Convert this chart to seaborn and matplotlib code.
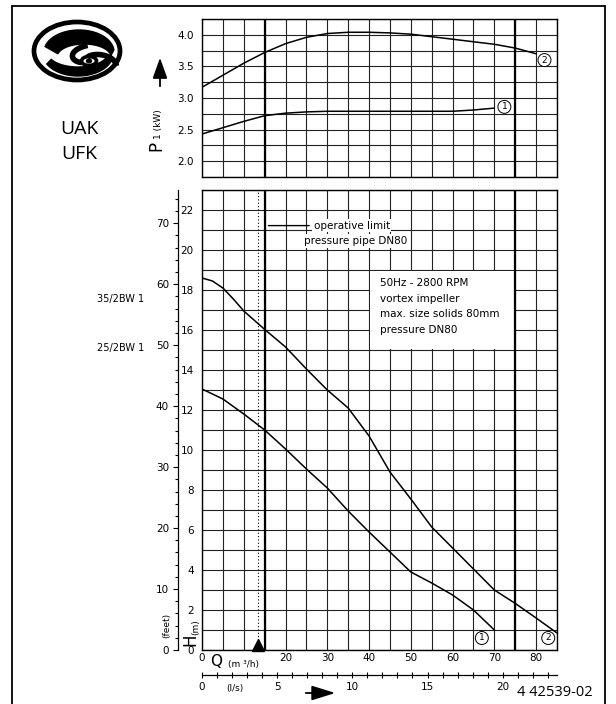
import numpy as np
import pandas as pd
import matplotlib
matplotlib.use("Agg")
import matplotlib.pyplot as plt
import seaborn as sns
from matplotlib.patches import Rectangle, Ellipse, Polygon, FancyArrowPatch
from matplotlib.lines import Line2D
from matplotlib.ticker import MultipleLocator

# ---------------- data ----------------
q_p_curve1 = [0, 5, 10, 15, 20, 25, 30, 35, 40, 45, 50, 55, 60, 65, 70]
p_curve1 = [2.43, 2.53, 2.63, 2.72, 2.76, 2.78, 2.79, 2.79, 2.79, 2.79, 2.79, 2.79, 2.79, 2.81, 2.84]
q_p_curve2 = [0, 5, 10, 15, 20, 25, 30, 35, 40, 45, 50, 55, 60, 65, 70, 75, 80]
p_curve2 = [3.17, 3.36, 3.55, 3.72, 3.86, 3.96, 4.02, 4.04, 4.04, 4.03, 4.01, 3.97, 3.93, 3.89, 3.85, 3.79, 3.70]

q_h_curve1 = [0, 5, 10, 15, 20, 25, 30, 35, 40, 45, 50, 55, 60, 65, 70]
h_curve1 = [13.05, 12.55, 11.8, 11.0, 10.05, 9.05, 8.1, 6.95, 5.9, 4.9, 3.9, 3.35, 2.75, 2.0, 1.0]
q_h_curve2 = [0, 2.5, 5, 7.5, 10, 15, 20, 25, 30, 35, 40, 45, 50, 55, 60, 65, 70, 75, 80, 85]
h_curve2 = [18.6, 18.45, 18.1, 17.55, 16.95, 16.03, 15.15, 14.05, 13.0, 12.1, 10.7, 8.9, 7.55, 6.15,
            5.1, 4.05, 3.0, 2.33, 1.6, 0.85]

curve_labels = ["1", "2"]
pump_models = ["35/2BW 1", "25/2BW 1"]
q_limits = [15, 75]          # thick vertical lines
q_min = 13.3                 # dotted line / triangle marker
p_ticks = [2.0, 2.5, 3.0, 3.5, 4.0]
h_ticks = [0, 2, 4, 6, 8, 10, 12, 14, 16, 18, 20, 22]
q_ticks = [0, 20, 30, 40, 50, 60, 70, 80]
feet_ticks = [0, 10, 20, 30, 40, 50, 60, 70]
ls_ticks = [0, 5, 10, 15, 20]
info_lines = ["50Hz - 2800 RPM", "vortex impeller", "max. size solids 80mm", "pressure DN80"]

# ---------------- style ----------------
sns.set_style("white")
plt.rcParams["font.family"] = ["DejaVu Sans"]
plt.rcParams["text.color"] = "k"
plt.rcParams["xtick.color"] = "k"
plt.rcParams["ytick.color"] = "k"

W, H = 616, 704
fig = plt.figure(figsize=(W / 100, H / 100), dpi=100)
fig.patch.set_facecolor("white")


def fx(x):
    return x / W


def fy(y):
    return 1 - y / H


GRID = dict(color="#222222", lw=0.8)
FS = 7.5

# ---------------- top axes (P1) ----------------
ax1 = fig.add_axes([fx(202), fy(177), fx(557) - fx(202), fy(19) - fy(177)])
ax1.set_xlim(0, 85)
ax1.set_ylim(1.75, 4.25)
ax1.set_xticks(np.arange(0, 86, 5))
ax1.set_xticklabels([])
yt = np.arange(1.75, 4.26, 0.25)
ax1.set_yticks(yt)
ax1.set_yticklabels([f"{v:.1f}" if any(abs(v - p) < 1e-6 for p in p_ticks) else "" for v in yt])
ax1.grid(True, **GRID)
ax1.set_axisbelow(True)
ax1.tick_params(length=0, pad=6, labelsize=FS, colors="k")
for s in ax1.spines.values():
    s.set_color("k")
    s.set_linewidth(1.0)
for q in q_limits:
    ax1.axvline(q, color="k", lw=1.6, zorder=2)

df_p = pd.DataFrame({
    "Q": q_p_curve1 + q_p_curve2,
    "P": p_curve1 + p_curve2,
    "curve": [curve_labels[0]] * len(q_p_curve1) + [curve_labels[1]] * len(q_p_curve2),
})
sns.lineplot(data=df_p, x="Q", y="P", hue="curve", palette=["k", "k"], lw=1.1,
             legend=False, ax=ax1, estimator=None, sort=False, zorder=3)
ax1.set_xlabel("")
ax1.set_ylabel("")

circ = dict(boxstyle="circle,pad=0.22", fc="white", ec="k", lw=0.7)
ax1.text(72.4, 2.86, curve_labels[0], ha="center", va="center", fontsize=6.5, bbox=circ, zorder=5)
ax1.text(82.0, 3.60, curve_labels[1], ha="center", va="center", fontsize=6.5, bbox=circ, zorder=5)

# ---------------- bottom axes (H) ----------------
ax2 = fig.add_axes([fx(202), fy(650), fx(557) - fx(202), fy(190) - fy(650)])
ax2.set_xlim(0, 85)
ax2.set_ylim(0, 23)
xt = np.arange(0, 86, 5)
ax2.set_xticks(xt)
ax2.set_xticklabels([str(v) if v in q_ticks else "" for v in xt])
ytt = np.arange(0, 24, 1)
ax2.set_yticks(ytt)
ax2.set_yticklabels([str(v) if v in h_ticks else "" for v in ytt])
ax2.grid(True, **GRID)
ax2.set_axisbelow(True)
ax2.tick_params(axis="y", length=0, pad=6, labelsize=FS, colors="k")
ax2.tick_params(axis="x", length=0, pad=2.5, labelsize=FS, colors="k")
for s in ax2.spines.values():
    s.set_color("k")
    s.set_linewidth(1.0)
for q in q_limits:
    ax2.axvline(q, color="k", lw=1.6, zorder=2)
ax2.axvline(q_min, color="k", lw=0.8, ls=(0, (1, 2)), zorder=2)
ax2.plot([q_min], [0.27], marker="^", ms=9, color="k", clip_on=False, zorder=6)

# white info box (cell with no grid)
ax2.add_patch(Rectangle((40.25, 15.05), 34.5, 3.9, fc="white", ec="none", zorder=1))
for i, line in enumerate(info_lines):
    ax2.text(42.7, 18.35 - i * 0.78, line, ha="left", va="center", fontsize=FS, zorder=4)

df_h = pd.DataFrame({
    "Q": q_h_curve1 + q_h_curve2,
    "H": h_curve1 + h_curve2,
    "curve": [curve_labels[0]] * len(q_h_curve1) + [curve_labels[1]] * len(q_h_curve2),
})
sns.lineplot(data=df_h, x="Q", y="H", hue="curve", palette=["k", "k"], lw=1.1,
             legend=False, ax=ax2, estimator=None, sort=False, zorder=3)
ax2.set_xlabel("")
ax2.set_ylabel("")

ax2.text(67.0, 0.6, curve_labels[0], ha="center", va="center", fontsize=6.5, bbox=circ, zorder=5)
ax2.text(82.9, 0.6, curve_labels[1], ha="center", va="center", fontsize=6.5, bbox=circ, zorder=5)

wb = dict(boxstyle="square,pad=0.15", fc="white", ec="none")
ax2.annotate("operative limit", xy=(15.9, 21.22), xytext=(26.7, 21.22), ha="left", va="center",
             fontsize=FS, bbox=wb, zorder=4,
             arrowprops=dict(arrowstyle="-", lw=1.0, color="k", shrinkA=2, shrinkB=0))
ax2.text(24.5, 20.45, "pressure pipe DN80", ha="left", va="center", fontsize=FS, bbox=wb, zorder=4)

# feet axis
ft = ax2.secondary_yaxis(-24 / 355, functions=(lambda m: m * 3.28084, lambda f: f / 3.28084))
ft.set_yticks(feet_ticks)
ft.yaxis.set_minor_locator(MultipleLocator(2))
ft.tick_params(axis="y", which="major", length=3.5, width=0.8, pad=3, labelsize=FS, colors="k")
ft.tick_params(axis="y", which="minor", length=2.5, width=0.8)
for s in ft.spines.values():
    s.set_color("k")
    s.set_linewidth(0.9)

# l/s axis
ls = ax2.secondary_xaxis(-25 / 460, functions=(lambda q: q / 3.6, lambda l: l * 3.6))
ls.set_xticks(ls_ticks)
ls.xaxis.set_minor_locator(MultipleLocator(1))
ls.tick_params(axis="x", which="both", direction="inout", length=4, width=0.8, pad=3,
               labelsize=FS, colors="k")
for s in ls.spines.values():
    s.set_color("k")
    s.set_linewidth(0.9)

# ---------------- figure-level texts ----------------
fig.text(fx(156), fy(146), "P", rotation=90, ha="center", va="center", fontsize=12)
fig.text(fx(159), fy(124), "1 (kW)", rotation=90, ha="center", va="center", fontsize=6.5)
fig.text(fx(190), fy(640), "H", rotation=90, ha="center", va="center", fontsize=12)
fig.text(fx(196), fy(627), "(m)", rotation=90, ha="center", va="center", fontsize=6.5)
fig.text(fx(167), fy(625), "(feet)", rotation=90, ha="center", va="center", fontsize=6.5)
fig.text(fx(216), fy(661), "Q", ha="center", va="center", fontsize=11)
fig.text(fx(243), fy(664), "(m ³/h)", ha="center", va="center", fontsize=6.5)
fig.text(fx(235), fy(688), "(l/s)", ha="center", va="center", fontsize=6.5)
fig.text(fx(144), fy(299), pump_models[0], ha="right", va="center", fontsize=7)
fig.text(fx(144), fy(348), pump_models[1], ha="right", va="center", fontsize=7)
fig.text(fx(79), fy(129), "UAK", ha="center", va="center", fontsize=14, family=["Open Sans", "DejaVu Sans"])
fig.text(fx(79), fy(154), "UFK", ha="center", va="center", fontsize=14, family=["Open Sans", "DejaVu Sans"])
fig.text(fx(555), fy(692), "4 42539-02", ha="center", va="center", fontsize=10.5,
         family=["Open Sans", "DejaVu Sans"])

# arrows
fig.add_artist(FancyArrowPatch((fx(160), fy(89)), (fx(160), fy(55)),
               transform=fig.transFigure, arrowstyle="-|>,head_length=0.7,head_width=0.25",
               mutation_scale=18, lw=1.3, color="k"))
fig.add_artist(FancyArrowPatch((fx(303), fy(693)), (fx(338), fy(693)),
               transform=fig.transFigure, arrowstyle="-|>,head_length=0.8,head_width=0.25",
               mutation_scale=18, lw=1.3, color="k"))

# frame
for xs, ys in [([12, 12], [6, 704]), ([12, 605], [6, 6]), ([605, 605], [6, 704])]:
    fig.add_artist(Line2D([fx(v) for v in xs], [fy(v) for v in ys], color="k", lw=1.3))

# ---------------- logo (impeller) ----------------
lax = fig.add_axes([fx(25), fy(95), fx(130) - fx(25), fy(15) - fy(95)])
lax.set_xlim(25, 130)
lax.set_ylim(95, 15)
lax.axis("off")
lax.add_patch(Ellipse((77, 51), 86, 58, fill=False, lw=3.4, ec="k"))
# top rim band
t = np.linspace(np.pi * 1.08, np.pi * 1.97, 40)
outer = np.c_[79 + 35 * np.cos(t), 52 + 22 * np.sin(t)]
inner = np.c_[84 + 27 * np.cos(t[::-1]), 57 + 13 * np.sin(t[::-1])]
lax.add_patch(Polygon(np.r_[outer, inner], closed=True, fc="k", ec="k"))
# lower rim band
t2 = np.linspace(np.pi * 0.10, np.pi * 0.85, 40)
outb = np.c_[78 + 35 * np.cos(t2), 54 + 22 * np.sin(t2)]
inb = np.c_[78 + 30 * np.cos(t2[::-1]), 53 + 14 * np.sin(t2[::-1])]
lax.add_patch(Polygon(np.r_[outb, inb], closed=True, fc="k", ec="k"))
# spiral blades
for ang in [0.6, 2.7, 4.6]:
    s = np.linspace(0, 1.0, 25)
    r = 6 + 20 * s
    th = ang + 2.0 * s
    lax.plot(88 + r * np.cos(th) * 1.15, 61 + r * np.sin(th) * 0.6, color="k",
             lw=4.0, solid_capstyle="butt")
lax.add_patch(Ellipse((89, 61), 15, 9, fc="white", lw=2.6, ec="k"))
lax.add_patch(Ellipse((89, 61), 5, 3.5, fc="k", ec="k"))

fig.savefig("out.png", dpi=100, facecolor="white")
